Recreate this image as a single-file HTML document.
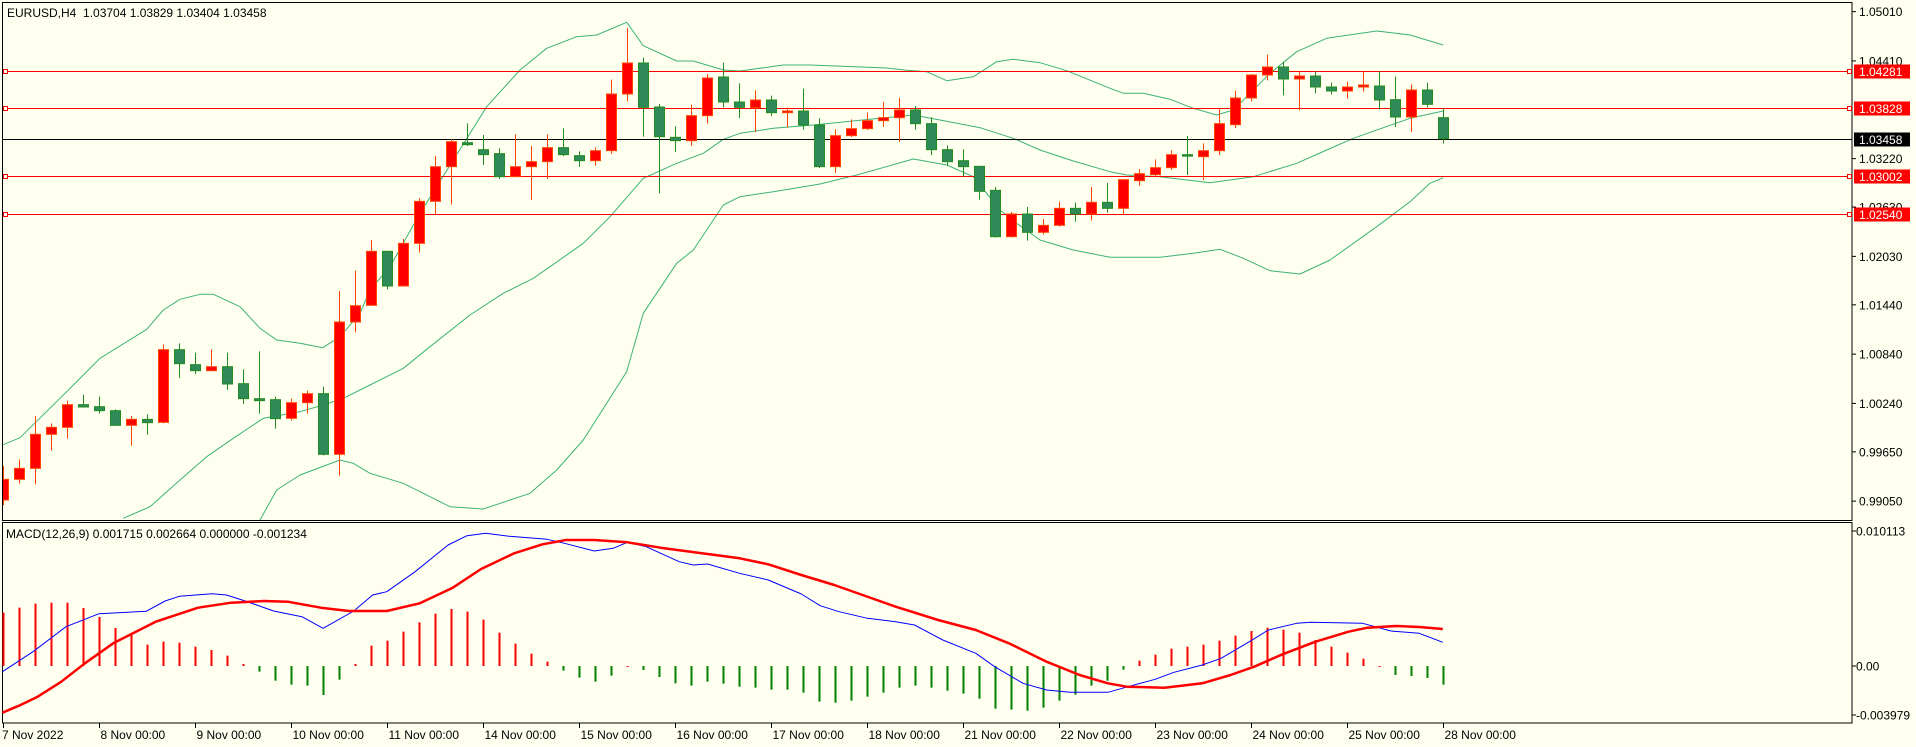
<!DOCTYPE html>
<html><head><meta charset="utf-8">
<style>
html,body{margin:0;padding:0;background:#FFFFF0;}
svg{display:block;}
text{font-family:"Liberation Sans",sans-serif;font-size:12px;white-space:pre;}
</style></head>
<body>
<svg id="s" width="1916" height="747" xmlns="http://www.w3.org/2000/svg">
<rect x="0" y="0" width="1916" height="747" fill="#FFFFF0"/>
<g id="g"></g>
</svg>
<script>
var NS="http://www.w3.org/2000/svg";
var g=document.getElementById('g');
function el(t,a,txt){var e=document.createElementNS(NS,t);for(var k in a)e.setAttribute(k,a[k]);if(txt!==undefined)e.textContent=txt;g.appendChild(e);return e;}
var R='#FF0000',OR='#FF4500',GF='#2E8B57',GS='#228B22';
var C=[
[1,1438,1500,1398,1515],[1,1405,1438,1378,1450],[1,1303,1405,1248,1453],[1,1282,1303,1270,1352],[1,1214,1282,1202,1316],
[0,1214,1221,1184,1221],[0,1220,1232,1190,1241],[0,1232,1276,1228,1276],[1,1258,1276,1248,1337],[0,1258,1268,1243,1304],
[1,1049,1267,1033,1270],[0,1049,1091,1030,1134],[0,1094,1112,1058,1122],[1,1100,1112,1048,1112],[0,1100,1152,1058,1170],
[0,1151,1196,1108,1212],[0,1196,1202,1054,1241],[0,1199,1256,1190,1286],[1,1208,1255,1196,1262],[1,1181,1208,1172,1241],
[0,1181,1363,1160,1366],[1,966,1363,873,1427],[1,917,966,812,997],[1,754,916,720,918],[0,754,858,754,868],
[1,730,858,717,858],[1,604,730,594,758],[1,500,604,468,644],[1,425,500,418,614],[0,428,434,370,438],
[0,449,464,405,495],[0,461,530,445,537],[1,500,530,403,530],[1,485,500,438,600],[1,443,485,403,537],
[0,443,464,385,468],[0,467,482,454,501],[1,452,482,442,497],[1,282,452,239,462],[1,189,282,84,304],
[0,189,322,173,410],[0,321,410,312,580],[0,412,422,379,456],[1,347,422,314,438],[1,234,347,222,370],
[0,231,306,188,322],[0,306,322,250,354],[1,300,323,271,396],[0,300,338,287,348],[1,333,338,323,383],
[0,333,375,266,389],[0,375,500,355,504],[1,407,500,388,519],[1,386,407,358,411],[1,362,386,337,390],
[1,353,362,305,381],[1,330,353,293,426],[0,330,371,318,389],[0,371,449,352,465],[0,449,485,436,497],
[0,482,500,448,530],[0,499,574,499,599],[0,571,710,561,713],[1,642,710,636,713],[0,642,697,621,722],
[1,676,697,657,704],[1,625,676,605,680],[0,625,642,608,665],[1,607,642,561,662],[0,607,625,549,638],
[1,539,625,539,644],[1,521,542,507,558],[1,503,524,478,528],[1,464,503,451,510],[0,464,467,408,525],
[1,452,470,430,540],[1,371,452,325,465],[1,294,374,272,384],[1,225,294,222,304],[1,201,225,164,241],
[0,201,237,186,286],[1,228,237,214,331],[0,228,261,214,280],[0,261,273,248,283],[1,261,273,245,296],
[1,255,261,214,274],[0,258,300,214,328],[0,299,351,230,381],[1,270,351,254,396],[0,270,313,248,322],
[0,353,416,325,430]];
function cx(k){return 3.5+16*k;}
el('rect',{x:2.5,y:2.5,width:1849.5,height:518,fill:'none',stroke:'#000','stroke-width':1});
el('rect',{x:2.5,y:522.5,width:1849.5,height:200.5,fill:'none',stroke:'#000','stroke-width':1});
var cp=document.createElementNS(NS,'clipPath');cp.setAttribute('id','cp');
var cr=document.createElementNS(NS,'rect');cr.setAttribute('x',3);cr.setAttribute('y',3);cr.setAttribute('width',1849);cr.setAttribute('height',517);cp.appendChild(cr);g.appendChild(cp);
function poly(segs,col,w,sx,oy,clip){var pts=[];segs.forEach(function(s){var off=s[0];for(var i=1;i<s.length;i+=2){pts.push((off+s[i]/sx).toFixed(1)+','+(oy+s[i+1]/3).toFixed(1));}});
 var a={points:pts.join(' '),fill:'none',stroke:col,'stroke-width':w,'stroke-linejoin':'round'};if(clip)a['clip-path']='url(#cp)';el('polyline',a);}
var BC='#3CB371';
poly([[0,0,1338,60,1313,200,1175,300,1075,440,988,490,930,540,898,600,883,640,883,720,920,780,985,830,1020,900,1030,968,1043,1020,1010,1080,940],
[370,0,870,60,800,150,640,250,480,350,320,450,210,530,145,620,110,680,105,770,67,820,137,920,183,970,183,1060,210],
[740,0,213,130,195,210,195,440,204,500,211,560,215,620,242,700,230,770,185,820,178,900,188,980,212,1110,265],
[1110,40,280,100,280,180,298,250,325,320,345,370,330,410,290,480,220,560,155,650,115,800,93,900,105,1000,135]],BC,1,3,0,true);
poly([[0,370,1555,450,1520,540,1440,620,1370,700,1315,790,1255,900,1235,970,1215,1030,1195,1110,1155],
[370,100,1105,180,1040,300,945,400,880,490,835,540,800,640,730,720,650,820,535,920,490,1000,460,1060,418,1110,400],
[740,100,385,220,375,420,355,520,345,600,360,720,383,820,415,900,450,1000,483,1110,515],
[1110,50,525,150,530,300,548,430,530,560,490,650,450,730,415,820,383,900,355,1000,333]],BC,1,3,0,true);
poly([[0,780,1560,830,1470,900,1425,1020,1380,1060,1390,1110,1420],
[370,100,1450,240,1520,340,1527,480,1480,560,1410,640,1320,770,1115,820,940,920,790,970,750,1060,615,1110,590],
[740,100,575,240,552,350,525,520,477,620,495,700,530,780,630,830,670,900,720,1000,750,1110,772],
[1110,150,772,250,760,330,748,400,775,480,812,570,822,660,780,800,680,900,605,960,550,1000,533]],BC,1,3,0,true);
[[71.5,R],[108.5,R],[176.5,R],[214.5,R]].forEach(function(l){el('line',{x1:3,x2:1852,y1:l[0],y2:l[0],stroke:l[1],'stroke-width':1});
 el('rect',{x:3.5,y:l[0]-2,width:4,height:4,fill:'#fff',stroke:R,'stroke-width':1});
 el('rect',{x:1847.5,y:l[0]-2,width:4,height:4,fill:'#fff',stroke:R,'stroke-width':1});});
el('line',{x1:3,x2:1852,y1:139.5,y2:139.5,stroke:'#000','stroke-width':1});
C.forEach(function(c,k){var x=cx(k);var bull=c[0]==1;
 var wc=bull?OR:GS, fc=bull?R:GF;
 el('line',{x1:x,x2:x,y1:c[3]/3,y2:c[4]/3,stroke:wc,'stroke-width':1,'clip-path':'url(#cp)'});
 var t=c[1]/3,b=c[2]/3;if(b-t<1.5)b=t+1.5;
 el('rect',{x:x-5,y:t,width:10,height:b-t,fill:fc,stroke:wc,'stroke-width':1,'clip-path':'url(#cp)'});});
el('text',{x:7,y:17},'EURUSD,H4  1.03704 1.03829 1.03404 1.03458');
function py(p){return 71.5+(1.04281-p)*8213;}
['1.05010','1.04410','1.03220','1.02630','1.02030','1.01440','1.00840','1.00240','0.99650','0.99050'].forEach(function(s){var y=py(parseFloat(s));
 el('line',{x1:1852,x2:1856,y1:y,y2:y,stroke:'#000'});el('text',{x:1859,y:y+4.5},s);});
[['1.04281',71.5,R],['1.03828',108.5,R],['1.03458',139.5,'#000'],['1.03002',176.5,R],['1.02540',214.5,R]].forEach(function(b){
 el('rect',{x:1854,y:b[1]-7,width:56,height:14,fill:b[2]});el('text',{x:1859,y:b[1]+4.5,fill:'#fff'},b[0]);});
el('text',{x:6,y:538},'MACD(12,26,9) 0.001715 0.002664 0.000000 -0.001234');
var H=[293,278,266,263,263,279,306,339,356,389,380,383,395,405,422,447,470,497,509,512,540,494,447,392,377,350,322,296,282,290,314,353,386,416,440,467,488,500,482,455,465,486,505,512,500,506,515,518,524,524,533,560,563,557,545,533,518,512,518,527,536,551,581,584,587,578,557,539,512,497,464,437,419,401,395,389,377,362,348,338,344,353,375,395,413,431,455,480,483,489,509];
var G=[16,17,18,19,20,21,35,36,37,38,40,41,42,43,44,45,46,47,48,49,50,51,52,53,54,55,56,57,58,59,60,61,62,63,64,65,66,67,68,69,70,87,88,89,90];
H.forEach(function(v,k){var y=515+v/3,base=666;var green=G.indexOf(k)>=0;
 var y1=Math.min(y,base),y2=Math.max(y,base);if(y2-y1<1)y2=y1+1;
 el('rect',{x:cx(k)-1,y:y1,width:2,height:y2-y1,fill:green?'#008000':R});});
poly([[0,5,470,70,410,140,335,210,296,310,289,350,258,380,244,450,236,480,240,520,258,580,288,640,305,685,340,750,288,790,240,820,230,880,170,950,90,990,62,1030,55,1080,64,1160,73,1200,86,1260,108,1300,100,1330,82,1370,95,1440,140,1470,150,1500,147,1568,175],
[740,60,195,130,237,170,272,210,290,270,310,330,320,370,330,430,375,500,415,540,455,600,505,650,525,700,532,780,532,830,512,880,493,920,472,980,450,1020,430,1080,380,1120,345,1180,325,1210,322,1320,325,1380,348,1440,355,1490,382]],'#0000FF',1,2.12,515,false);
poly([[0,5,593,40,572,80,545,130,500,180,445,240,385,330,320,420,278,490,263,560,258,610,260,680,278,740,288,820,288,890,265,960,218,1020,162,1090,115,1150,88,1200,75,1260,75,1330,82,1400,98,1480,113,1568,130],
[740,60,148,130,180,200,210,260,240,330,275,420,315,500,345,570,385,650,440,720,480,780,505,820,515,900,518,980,505,1040,480,1090,455,1150,418,1220,380,1290,350,1330,338,1390,333,1440,336,1490,342]],R,2.5,2.12,515,false);
[['0.010113',531],['0.00',666],['-0.003979',715]].forEach(function(a){el('line',{x1:1852,x2:1856,y1:a[1],y2:a[1],stroke:'#000'});el('text',{x:1856,y:a[1]+4.5},a[0]);});
var D=['7 Nov 2022','8 Nov 00:00','9 Nov 00:00','10 Nov 00:00','11 Nov 00:00','14 Nov 00:00','15 Nov 00:00','16 Nov 00:00','17 Nov 00:00','18 Nov 00:00','21 Nov 00:00','22 Nov 00:00','23 Nov 00:00','24 Nov 00:00','25 Nov 00:00','28 Nov 00:00'];
D.forEach(function(s,i){var x=cx(i*6);el('line',{x1:x,x2:x,y1:723,y2:728,stroke:'#000'});el('text',{x:(i==0?2:x+1),y:739},s);});
</script>
</body></html>
